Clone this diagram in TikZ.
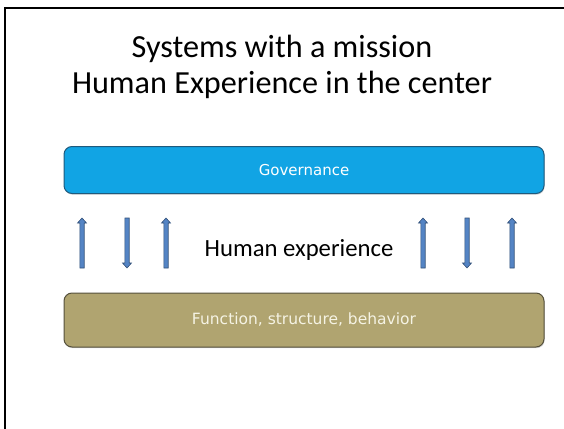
\documentclass[tikz,border=0pt]{standalone}
\usepackage{fontspec}
\setmainfont{Carlito}
\newfontfamily\boxfont{DejaVu Sans}
\usetikzlibrary{shadows}

\definecolor{govblue}{RGB}{17,164,228}
\definecolor{govedge}{RGB}{30,90,125}
\definecolor{fsbgold}{RGB}{176,164,112}
\definecolor{fsbedge}{RGB}{85,80,60}
\definecolor{fsbtext}{RGB}{245,243,228}
\definecolor{arrowfill}{RGB}{84,132,196}
\definecolor{arrowedge}{RGB}{50,80,120}

\tikzset{
  layerbox/.style={rounded corners=8pt, line width=1pt, minimum width=480pt, minimum height=47pt,
    drop shadow={shadow xshift=0.6pt, shadow yshift=-1.2pt, opacity=0.35}},
  blockarrow/.style={fill=arrowfill, draw=arrowedge, line width=0.6pt, line join=miter}
}

\begin{document}
\begin{tikzpicture}[x=1pt, y=-1pt]
\useasboundingbox (0,0) rectangle (564,428);

% Frame
\draw[line width=2.5pt] (5,440) -- (5,8) -- (580,8);

% Title
\node[align=center, font=\fontsize{32.2}{36}\selectfont] (title) at (282,67)
  {Systems with a mission\\Human Experience in the center};

% Layers
\node[layerbox, fill=govblue, draw=govedge, text=white, font=\boxfont\fontsize{15}{18}\selectfont]
  (gov) at (304,170) {Governance};
\node[layerbox, fill=fsbgold, draw=fsbedge, text=fsbtext, font=\boxfont\fontsize{15.5}{18}\selectfont, minimum height=54pt]
  (fsb) at (304,320) {Function, structure, behavior};

% Middle text
\node[anchor=base, font=\fontsize{24.7}{29}\selectfont] (hx) at (299,256) {Human experience};

% Arrows (1 = up, -1 = down)
\pgfmathsetmacro{\halfShaft}{2.2}
\pgfmathsetmacro{\halfHead}{4.5}
\pgfmathsetmacro{\headLength}{5}
\foreach \x/\d in {82/1,127/-1,166/1,423/1,467/-1,512/1} {
  \pgfmathsetmacro{\tipY}{\d>0 ? 218 : 268}
  \pgfmathsetmacro{\tailY}{\d>0 ? 268 : 218}
  \pgfmathsetmacro{\neckY}{\tipY+\headLength*\d}
  \draw[blockarrow] (\x-\halfShaft,\tailY) -- (\x-\halfShaft,\neckY) -- (\x-\halfHead,\neckY)
    -- (\x,\tipY) -- (\x+\halfHead,\neckY) -- (\x+\halfShaft,\neckY) -- (\x+\halfShaft,\tailY) -- cycle;
}

\end{tikzpicture}
\end{document}
